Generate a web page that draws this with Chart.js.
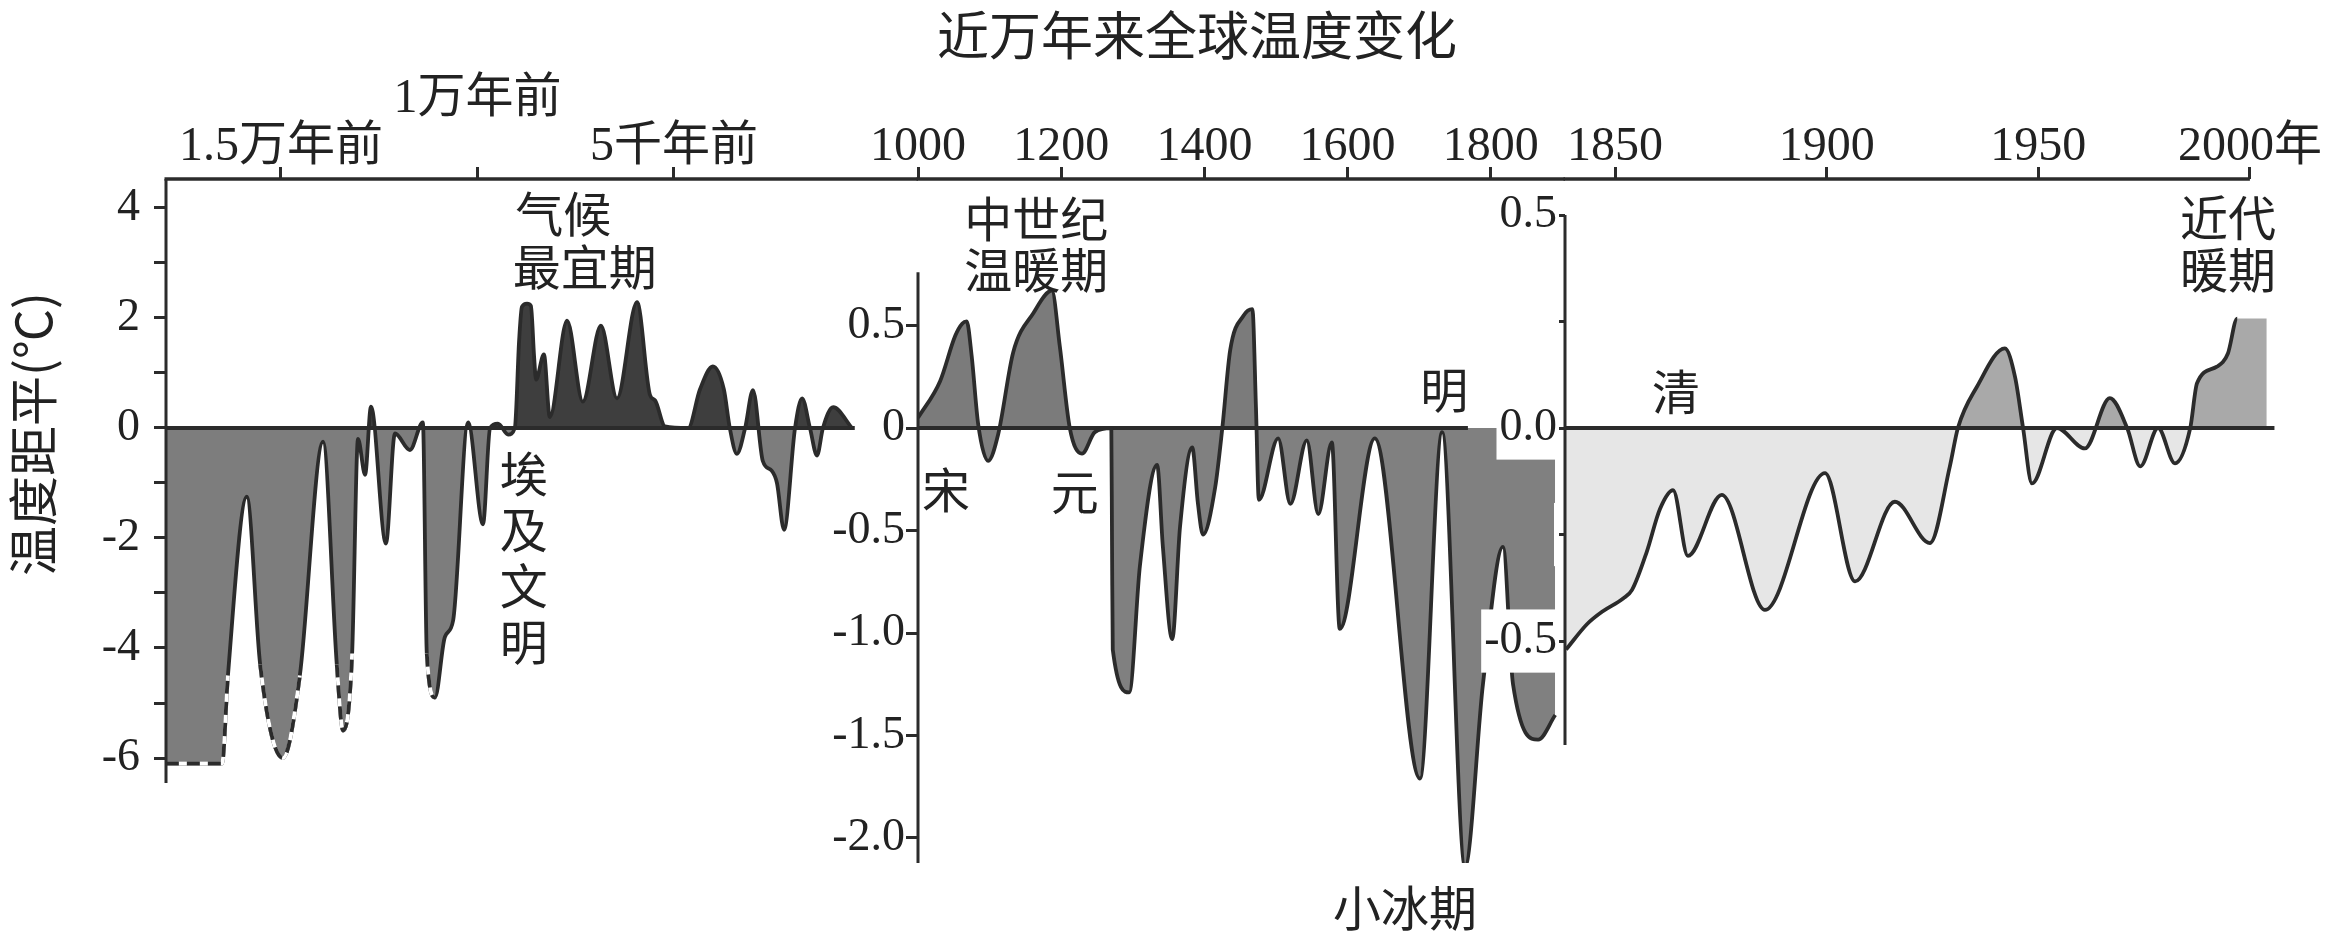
<!DOCTYPE html>
<html lang="zh-CN">
<head>
<meta charset="UTF-8">
<title>近万年来全球温度变化</title>
<script src="https://cdn.jsdelivr.net/npm/chart.js"></script>
<style>
  html, body { margin: 0; padding: 0; background: #fff; }
  #wrap { position: relative; width: 2346px; height: 937px; }
  #wrap canvas { position: absolute; left: 0; top: 0; }
</style>
</head>
<body>
<div id="wrap">
  <canvas id="c1" width="2346" height="937"></canvas>
  <canvas id="c2" width="2346" height="937"></canvas>
  <canvas id="c3" width="2346" height="937"></canvas>
</div>
<script>
// 第一段：距今千年（负数表示“前”），温度距平 ℃
const p1Ka = [-17.93, -16.50, -16.35, -15.87, -15.53, -14.95, -14.52, -13.93, -13.58, -13.42,
  -13.19, -13.04, -12.86, -12.71, -12.33, -12.10, -11.72, -11.39, -11.29, -11.08,
  -10.83, -10.62, -10.24, -9.86, -9.68, -9.48, -9.22, -9.05, -8.94, -8.87,
  -8.74, -8.64, -8.56, -8.51, -8.31, -8.16, -7.72, -7.32, -6.86, -6.45,
  -5.94, -5.61, -5.48, -5.23, -4.64, -4.34, -4.01, -3.73, -3.58, -3.40,
  -3.19, -2.99, -2.74, -2.51, -2.38, -2.20, -1.92, -1.74, -1.54, -1.36,
  -1.21, -0.95, -0.47];
const p1Temp = [-6.10, -6.10, -4.50, -1.25, -4.30, -6.00, -4.50, -0.25, -4.30, -5.50,
  -4.10, -0.20, -0.85, 0.39, -2.10, -0.10, -0.40, 0.10, -4.10, -4.90,
  -3.80, -3.50, 0.10, -1.75, 0.00, 0.08, -0.12, 0.00, 1.60, 2.20,
  2.26, 2.22, 1.30, 0.88, 1.34, 0.20, 1.95, 0.48, 1.86, 0.54,
  2.29, 0.60, 0.50, 0.03, 0.00, 0.70, 1.12, 0.70, 0.00, -0.47,
  0.00, 0.69, -0.60, -0.78, -1.00, -1.85, 0.00, 0.54, 0.00, -0.50,
  0.00, 0.38, 0.00];
const p1Zero = [-17.93, -0.40];
const p1TickVals = [-15, -10, -5];
const p1TickLabels = ['1.5万年前', '1万年前', '5千年前'];
const p1YTicks = [4, 3, 2, 1, 0, -1, -2, -3, -4, -5, -6];

// 第二段：公元 1000—1850 年
const p2Year = [1000, 1031, 1052, 1062, 1068, 1075, 1084, 1098, 1112, 1133,
  1161, 1187, 1198, 1212, 1229, 1247, 1270, 1271, 1272, 1295,
  1310, 1334, 1342, 1355, 1366, 1383, 1391, 1398, 1415, 1425,
  1436, 1455, 1467, 1472, 1476, 1503, 1520, 1543, 1559, 1578,
  1589, 1638, 1701, 1732, 1764, 1789, 1817, 1831, 1866, 1890];
const p2Temp = [0.05, 0.23, 0.45, 0.51, 0.52, 0.35, 0.02, -0.16, -0.03, 0.37,
  0.56, 0.67, 0.40, 0.00, -0.125, -0.02, 0.00, -0.58, -1.08, -1.29,
  -0.67, -0.18, -0.58, -1.03, -0.48, -0.095, -0.37, -0.52, -0.29, 0.00,
  0.38, 0.55, 0.58, 0.10, -0.35, -0.05, -0.37, -0.06, -0.42, -0.07,
  -0.98, -0.05, -1.71, -0.02, -2.14, -1.25, -0.58, -1.25, -1.52, -1.40];
const p2Zero = [1000, 1768];
const p2TickVals = [1000, 1200, 1400, 1600, 1800];
const p2YTicks = [0.5, 0, -0.5, -1, -1.5, -2];

// 第三段：1850—2000 年
const p3Year = [1838.4, 1843.4, 1847.1, 1851.9, 1854.0, 1857.5, 1860.6, 1863.7, 1867.2, 1875.2,
  1885.4, 1899.6, 1906.7, 1916.1, 1924.4, 1929.1, 1931.0, 1935.5, 1942.1, 1944.5,
  1946.4, 1948.5, 1954.4, 1961.0, 1966.9, 1971.0, 1974.1, 1978.3, 1982.3, 1985.9,
  1987.5, 1992.2, 1994.8, 1997.0, 2004.0];
const p3Temp = [-0.52, -0.46, -0.43, -0.40, -0.38, -0.29, -0.19, -0.146, -0.30, -0.157,
  -0.427, -0.106, -0.36, -0.173, -0.27, -0.09, 0.00, 0.097, 0.187, 0.12,
  0.00, -0.13, 0.00, -0.048, 0.07, 0.00, -0.09, 0.00, -0.083, 0.00,
  0.105, 0.144, 0.175, 0.257, 0.257];
const p3Zero = [1838.2, 2005.8];
const p3TickVals = [1850, 1900, 1950, 2000];
const p3TickLabels = ['1850', '1900', '1950', '2000年'];
const p3YTicks = [0.5, 0.25, 0, -0.25, -0.5];

const FONT_NUM = '"Liberation Serif", "Noto Sans CJK SC", serif';
const FONT_CJK = '"Noto Sans CJK SC", sans-serif';
const INK = '#2b2b2b';

function pts(xs, ys) {
  return xs.map((x, i) => ({x: x, y: ys[i]}));
}

// 顶部横线 + 纵轴线
function makeFrame(yTop, xEnd) {
  return {
    id: 'frame',
    afterDatasetsDraw(chart) {
      const {ctx, chartArea} = chart;
      const {x, y} = chart.scales;
      ctx.save();
      ctx.strokeStyle = INK;
      ctx.lineWidth = 3.5;
      ctx.beginPath();
      ctx.moveTo(chartArea.left - 1.5, chartArea.top);
      ctx.lineTo(xEnd != null ? x.getPixelForValue(xEnd) : chartArea.right, chartArea.top);
      ctx.stroke();
      ctx.lineWidth = 3;
      ctx.beginPath();
      ctx.moveTo(chartArea.left, yTop != null ? y.getPixelForValue(yTop) : chartArea.top);
      ctx.lineTo(chartArea.left, chartArea.bottom);
      ctx.stroke();
      ctx.restore();
    }
  };
}

// 文字注记
function makeNotes(items) {
  return {
    id: 'notes',
    afterDraw(chart) {
      const {ctx} = chart;
      const {x, y} = chart.scales;
      ctx.save();
      ctx.fillStyle = '#222';
      ctx.textAlign = 'center';
      ctx.textBaseline = 'middle';
      items.forEach(n => {
        const px = n.px ? n.x : x.getPixelForValue(n.x);
        const py = n.px ? n.y : y.getPixelForValue(n.y);
        ctx.font = (n.size || 48) + 'px ' + FONT_CJK;
        ctx.save();
        ctx.translate(px, py);
        if (n.rot) ctx.rotate(n.rot * Math.PI / 180);
        ctx.fillText(n.text, 0, 0);
        ctx.restore();
      });
      ctx.restore();
    }
  };
}

function axisX(min, max, tickVals, labelOf) {
  return {
    type: 'linear', position: 'top', min: min, max: max,
    afterFit: s => { s.height = 179; },
    afterBuildTicks: s => { s.ticks = tickVals.map(v => ({value: v})); },
    border: {display: false},
    grid: {drawOnChartArea: false, drawTicks: true, tickLength: 12, color: INK, lineWidth: 3},
    ticks: {
      autoSkip: false, maxRotation: 0, minRotation: 0, padding: -4, color: '#222',
      font: {family: FONT_NUM, size: 48, lineHeight: 1},
      callback: (v, i) => labelOf(i)
    }
  };
}

function axisY(left, min, max, tickVals, fmt, extra) {
  return {
    type: 'linear', position: 'left', min: min, max: max,
    afterFit: s => { s.width = left; },
    afterBuildTicks: s => { s.ticks = tickVals.map(v => ({value: v})); },
    border: {display: false},
    grid: {drawOnChartArea: false, drawTicks: true, tickLength: extra.tickLength || 12, color: INK, lineWidth: 3},
    ticks: Object.assign({
      autoSkip: false, color: '#222',
      font: {family: FONT_NUM, size: 46},
      callback: v => fmt(v)
    }, extra.ticks)
  };
}

function makeChart(id, cfg) {
  return new Chart(document.getElementById(id), {
    type: 'line',
    data: {datasets: cfg.datasets},
    options: {
      responsive: false,
      animation: false,
      devicePixelRatio: 1,
      layout: {padding: {left: 0, top: 0, right: cfg.padRight, bottom: cfg.padBottom}},
      elements: {point: {radius: 0}, line: {borderJoinStyle: 'round'}},
      scales: {x: cfg.x, y: cfg.y},
      plugins: {
        legend: {display: false},
        tooltip: {enabled: false},
        filler: {drawTime: 'beforeDatasetsDraw'}
      }
    },
    plugins: [makeFrame(cfg.yTop, cfg.xEnd), makeNotes(cfg.notes)]
  });
}

// 低于 -4 ℃ 的部分用虚线（白底黑虚线）
const isDashed = c => c.p0.parsed.y < -4 && c.p1.parsed.y < -4;

// ===== 第一段 =====
makeChart('c1', {
  padRight: 2346 - 918, padBottom: 937 - 783,
  x: axisX(-17.926, 1.209, p1TickVals, i => i === 1 ? [p1TickLabels[i], ''] : p1TickLabels[i]),
  y: axisY(166, -6.4545, 4.527, p1YTicks, v => (v % 2 === 0 ? String(v) : ''), {ticks: {padding: 14}}),
  yTop: null,
  datasets: [
    {
      data: pts(p1Ka, p1Temp), borderColor: 'transparent', borderWidth: 3.8,
      cubicInterpolationMode: 'monotone', fill: false,
      segment: {
        borderColor: c => isDashed(c) ? INK : 'transparent',
        borderDash: c => isDashed(c) ? [13, 8] : undefined
      }
    },
    {
      data: pts(p1Ka, p1Temp), borderColor: 'transparent', borderWidth: 3.8,
      cubicInterpolationMode: 'monotone', fill: false,
      segment: {borderColor: c => isDashed(c) ? '#ffffff' : 'transparent'}
    },
    {
      data: pts(p1Ka, p1Temp), borderColor: INK, borderWidth: 3.8,
      cubicInterpolationMode: 'monotone',
      fill: {target: 'origin', above: '#3e3e3e', below: '#7d7d7d'}
    },
    {data: pts(p1Zero, [0, 0]), borderColor: INK, borderWidth: 4, fill: false}
  ],
  notes: [
    {text: '近万年来全球温度变化', px: true, x: 1197, y: 35, size: 52},
    {text: '温度距平(℃)', px: true, x: 33, y: 434, size: 50, rot: -90},
    {text: '气候', x: -7.82, y: 3.89},
    {text: '最宜期', x: -7.27, y: 2.93},
    {text: '埃', x: -8.82, y: -0.84},
    {text: '及', x: -8.82, y: -1.85},
    {text: '文', x: -8.82, y: -2.87},
    {text: '明', x: -8.82, y: -3.89}
  ]
});

// ===== 第二段 =====
makeChart('c2', {
  padRight: 2346 - 1565, padBottom: 937 - 863,
  x: axisX(1000, 1903.6, p2TickVals, i => String(p2TickVals[i])),
  y: axisY(918, -2.122, 1.215, p2YTicks, v => (v === 0 ? '0' : v.toFixed(1)), {ticks: {padding: 1}}),
  yTop: 0.76,
  datasets: [
    {
      data: pts(p2Year, p2Temp), borderColor: INK, borderWidth: 3.8,
      cubicInterpolationMode: 'monotone',
      fill: {target: 'origin', above: '#7b7b7b', below: '#808080'}
    },
    {data: pts(p2Zero, [0, 0]), borderColor: INK, borderWidth: 4, fill: false}
  ],
  notes: [
    {text: '中世纪', x: 1165, y: 1.02},
    {text: '温暖期', x: 1165, y: 0.771},
    {text: '宋', x: 1039, y: -0.30},
    {text: '元', x: 1219, y: -0.31},
    {text: '明', x: 1735, y: 0.185},
    {text: '小冰期', x: 1680, y: -2.34}
  ]
});

// ===== 第三段 =====
makeChart('c3', {
  padRight: 2346 - 2275, padBottom: 937 - 745,
  x: axisX(1838.16, 2005.93, p3TickVals, i => p3TickLabels[i]),
  y: axisY(1565, -0.744, 0.5845, p3YTicks,
    v => (Math.abs(v * 2 - Math.round(v * 2)) < 1e-6 ? v.toFixed(1) : ''),
    {tickLength: 10, ticks: {padding: -2, showLabelBackdrop: true, backdropColor: '#ffffff',
      backdropPadding: {top: 4, bottom: 4, left: 3, right: 2}}}),
  yTop: 0.5,
  xEnd: 2000,
  datasets: [
    {
      // 曲线（最后一段平顶不描边）
      data: pts(p3Year, p3Temp), borderColor: INK, borderWidth: 3.8,
      cubicInterpolationMode: 'monotone', fill: false,
      segment: {borderColor: c => (c.p0DataIndex === p3Year.length - 2 ? 'transparent' : undefined)}
    },
    {
      data: pts(p3Year, p3Temp), borderWidth: 0,
      cubicInterpolationMode: 'monotone',
      fill: {target: 'origin', above: '#a9a9a9', below: '#e6e6e6'}
    },
    {data: pts(p3Zero, [0, 0]), borderColor: INK, borderWidth: 4, fill: false}
  ],
  notes: [
    {text: '清', x: 1864.4, y: 0.085},
    {text: '近代', x: 1994.8, y: 0.493},
    {text: '暖期', x: 1994.8, y: 0.371}
  ]
});
</script>
</body>
</html>
